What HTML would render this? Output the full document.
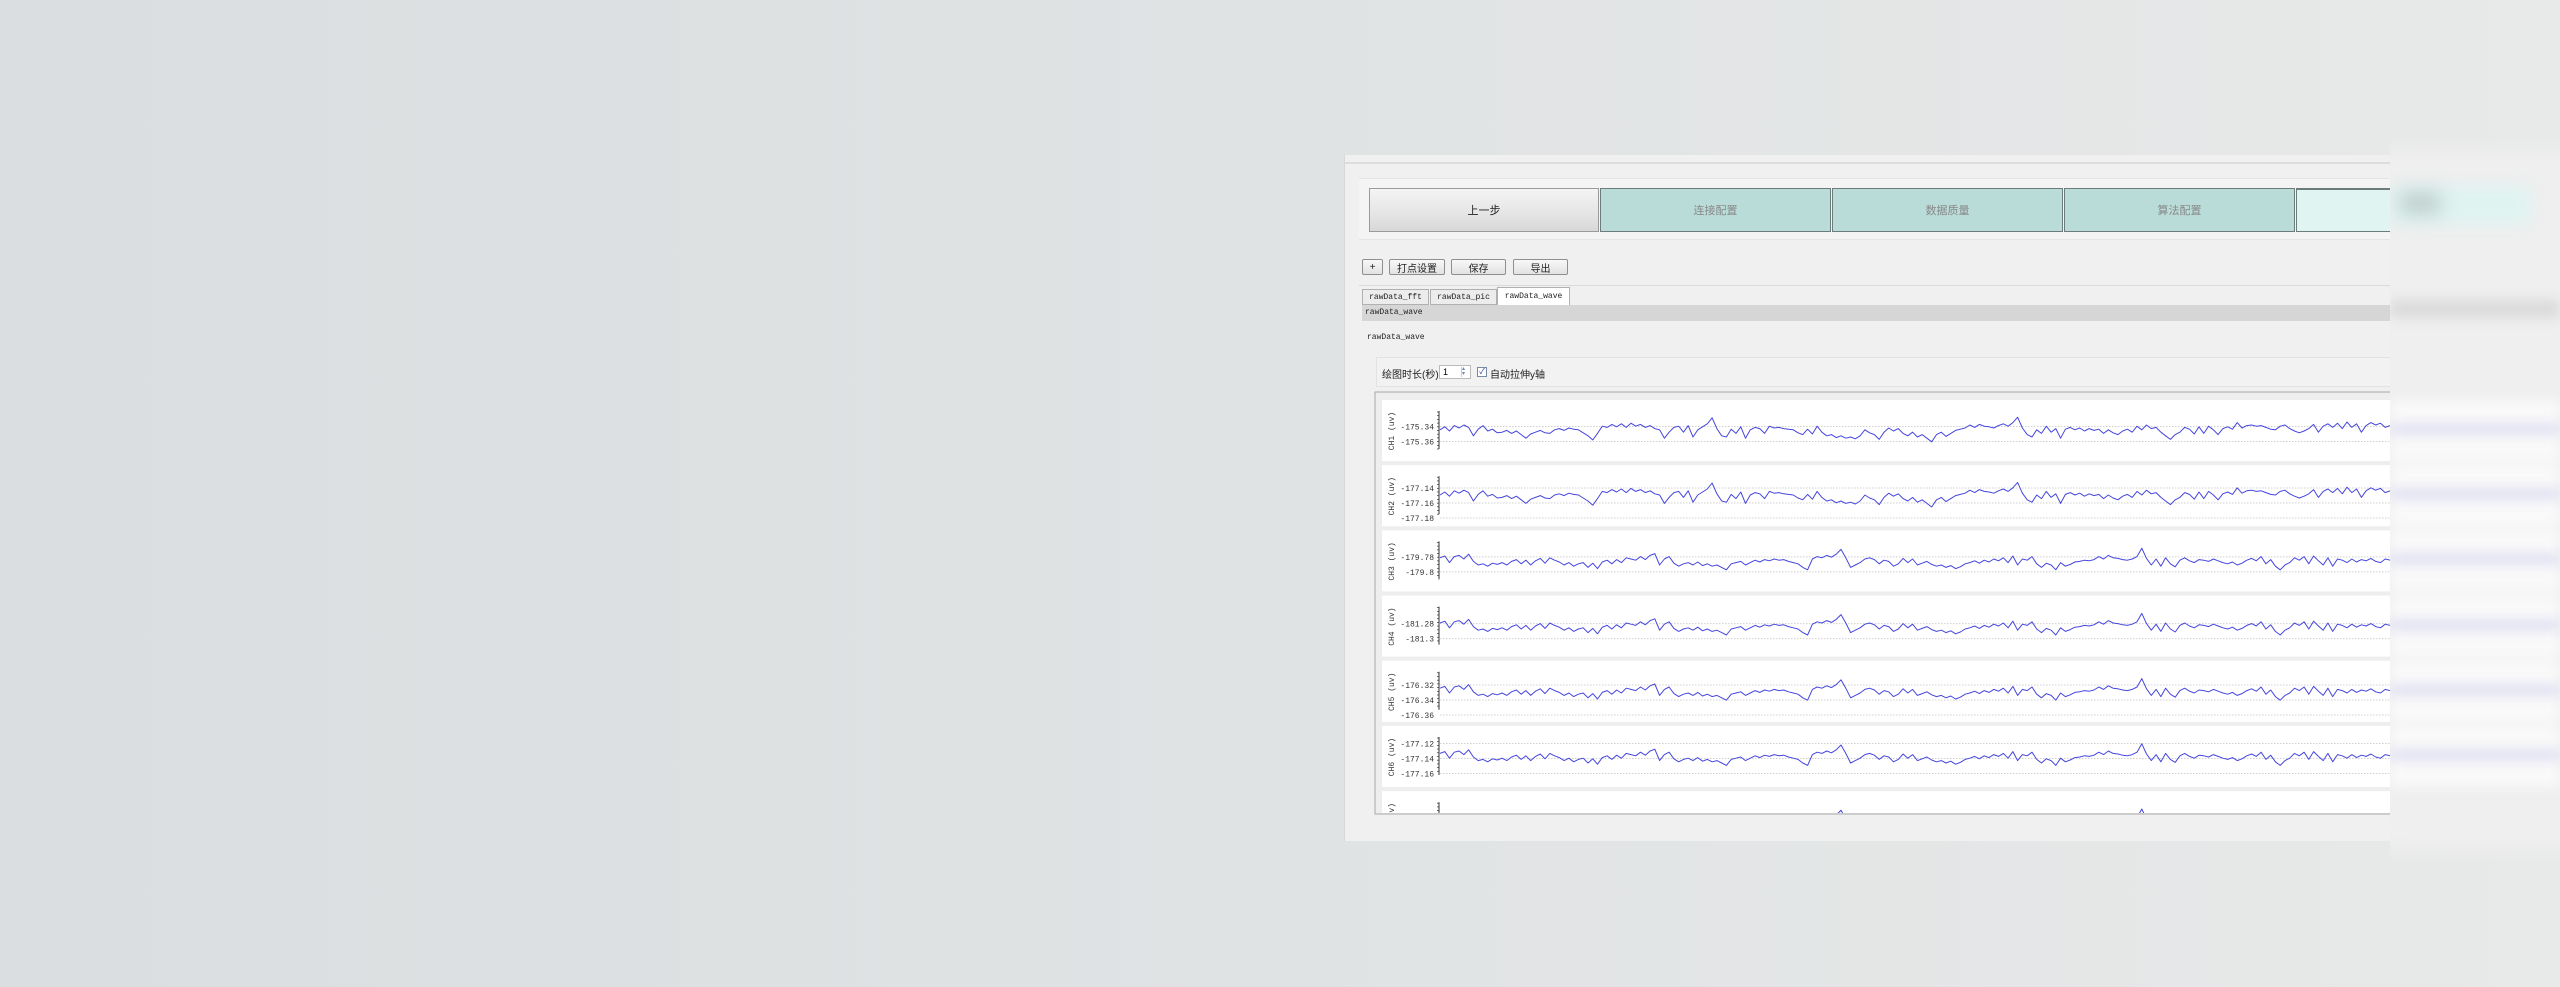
<!DOCTYPE html>
<html><head><meta charset="utf-8">
<style>
*{margin:0;padding:0;box-sizing:border-box}
body{width:2560px;height:987px;overflow:hidden;position:relative;background:linear-gradient(90deg,#dadee0 0%,#e0e3e4 50%,#e8e9e9 100%);font-family:"Liberation Sans","Noto Sans CJK SC",sans-serif;}
.abs{position:absolute}
#win{left:1344px;top:155px;width:1046px;height:686px;background:#f0f0f0;border-left:1px solid #d8d8d8;overflow:hidden}
.step{position:absolute;top:33px;height:44px;font-size:11px;color:#888;display:flex;align-items:center;justify-content:center;border:1px solid #6c7c7a}
.btn{position:absolute;top:104px;height:16px;border:1px solid #8f8f8f;border-radius:2px;background:linear-gradient(#f8f8f8,#e2e2e2);font-size:10px;display:flex;align-items:center;justify-content:center;color:#222}
.tab{position:absolute;top:134px;height:16px;border:1px solid #b0b0b0;background:#ececec;font-family:"Liberation Mono",monospace;font-size:8px;display:flex;align-items:center;justify-content:center;color:#222}
</style></head><body>
<div id="win" class="abs">
  <div class="abs" style="left:0;top:7px;width:1046px;height:2px;background:#dcdcdc"></div>
  <div class="abs" style="left:14px;top:23px;width:1032px;height:62px;background:#f4f4f4;border-top:1px solid #e4e4e4;border-bottom:1px solid #e4e4e4"></div>
  <div class="step" style="left:24px;width:230px;background:linear-gradient(#f4f4f4,#e6e6e6 55%,#d8d8d8);color:#222;border-color:#9a9a9a">上一步</div>
  <div class="step" style="left:255px;width:231px;background:#b9dcd9">连接配置</div>
  <div class="step" style="left:487px;width:231px;background:#b9dcd9">数据质量</div>
  <div class="step" style="left:719px;width:231px;background:#b9dcd9">算法配置</div>
  <div class="step" style="left:951px;width:120px;background:#e0f4f1;border-top:2px solid #6c7c7a"></div>
  <div class="btn" style="left:17px;width:21px">+</div>
  <div class="btn" style="left:44px;width:56px">打点设置</div>
  <div class="btn" style="left:106px;width:55px">保存</div>
  <div class="btn" style="left:168px;width:55px">导出</div>
  <div class="abs" style="left:14px;top:130px;width:1032px;height:1px;background:#dadada"></div>
  <div class="tab" style="left:17px;width:67px">rawData_fft</div>
  <div class="tab" style="left:85px;width:67px">rawData_pic</div>
  <div class="tab" style="left:152px;width:73px;background:#fff;top:132px;height:18px;border-bottom:none">rawData_wave</div>
  <div class="abs" style="left:17px;top:150px;width:1029px;height:16px;background:#d6d6d6;font-family:'Liberation Mono',monospace;font-size:8px;line-height:16px;padding-left:3px;color:#222">rawData_wave</div>
  <div class="abs" style="left:22px;top:178px;font-family:'Liberation Mono',monospace;font-size:8px;color:#222">rawData_wave</div>
  <div class="abs" style="left:31px;top:202px;width:1015px;height:30px;border:1px solid #e2e2e2;background:#f2f2f2"></div>
  <div class="abs" style="left:37px;top:211px;font-size:10px;color:#222">绘图时长(秒)</div>
  <div class="abs" style="left:94px;top:210px;width:32px;height:14px;background:#fff;border:1px solid #bbb;font-size:9px;padding-left:3px;line-height:12px">1<span style="position:absolute;right:1px;top:1px;width:8px;height:10px;border-left:1px solid #ccc;font-size:6px;line-height:5px;color:#6a8ab0">▴<br>▾</span></div>
  <div class="abs" style="left:132px;top:212px;width:10px;height:10px;border:1px solid #7a8aa0;background:#fff;font-size:8px;line-height:8px;text-align:center;color:#2040a0">✓</div>
  <div class="abs" style="left:145px;top:211px;font-size:10px;color:#222">自动拉伸y轴</div>
</div>
<svg id="plot" class="abs" style="left:0;top:0" width="2560" height="987"></svg>
<div class="abs" style="left:2390px;top:140px;width:170px;height:720px;overflow:hidden">
  <div class="abs" style="left:-30px;top:10px;width:230px;height:700px;background:#efefef;filter:blur(10px)"></div>
  <div class="abs" style="left:0;top:45px;width:140px;height:40px;background:#dff3f0;filter:blur(7px)"></div>
  <div class="abs" style="left:10px;top:52px;width:40px;height:22px;background:#c0cfcd;filter:blur(9px)"></div>
  <div class="abs" style="left:0;top:160px;width:170px;height:18px;background:#dadada;filter:blur(6px)"></div>
  <div id="blurRows" class="abs" style="left:0;top:0;width:170px;height:720px;filter:blur(6px)"></div>
</div>
<script>
const channels = ["CH1 (uv)","CH2 (uv)","CH3 (uv)","CH4 (uv)","CH5 (uv)","CH6 (uv)","CH7 (uv)"];
const centers = [-175.346,-177.151,-179.786,-181.284,-176.329,-177.138,-177.2];
const tickLabels = [["-175.34","-175.36"],["-177.14","-177.16","-177.18"],["-179.78","-179.8"],["-181.28","-181.3"],["-176.32","-176.34","-176.36"],["-177.12","-177.14","-177.16"],[]];
const tickValues = [[-175.34,-175.36],[-177.14,-177.16,-177.18],[-179.78,-179.80],[-181.28,-181.30],[-176.32,-176.34,-176.36],[-177.12,-177.14,-177.16],[]];
const waveA = [2,7,0,9,5,10,6,-8,3,9, 0,3,-3,-2,1,-4,0,-6,-12,-5, -2,1,-3,-4,2,4,1,5,3,2, -3,-8,-15,-4,8,6,11,7,12,6,
13,8,11,6,9,4,2,-12,-2,6, 8,-2,9,-10,2,7,12,22,4,-8, -10,3,-4,7,-12,2,6,4,-4,8, 5,6,4,3,2,-3,-6,3,-5,8,
-2,-8,-6,-11,-8,-12,-10,-13,-8,2, -3,-6,-14,-2,5,0,4,-4,-8,-2, -10,-6,-12,-18,-6,-2,-9,-4,1,3, 5,10,6,11,8,7,5,9,12,8,
14,23,5,-6,-10,2,-4,8,-2,4, -12,3,6,2,5,0,4,1,3,-4, 2,-3,-6,0,3,-2,8,2,10,4, 6,-2,-8,-14,-6,-2,6,3,-5,7,
-4,8,2,-6,4,7,3,14,5,9, 10,8,9,6,3,2,8,10,4,0, -3,0,4,11,-2,8,12,6,13,4, 15,6,12,-2,9,14,10,13,6,9];
const waveB = [6,9,-2,8,10,4,12,0,-6,-4, -8,-3,-5,-2,-6,0,3,-4,2,-6, 1,5,-3,6,2,-1,-6,-2,-8,-4, -2,-10,-3,-12,-1,2,-4,3,-2,6,
4,2,8,3,10,13,-6,4,8,-3, -8,-4,-2,-6,-1,-7,-4,-8,-6,-10, -14,-4,-2,0,-6,-2,2,-1,3,1, 4,2,3,0,-2,-4,-10,-14,4,8,
6,10,7,12,20,6,-10,-6,-2,4, 6,3,-4,2,0,-8,-4,5,-2,4, -6,-3,0,-5,-8,-6,-10,-7,-12,-9, -4,-2,1,-3,2,-1,4,1,6,-2,
9,-6,4,2,8,-4,-10,-3,-6,-14, -2,-8,-5,-1,0,2,1,3,8,4, 10,6,5,3,2,4,8,22,5,-6, 4,-8,6,-4,-9,2,6,1,-2,3,
2,0,4,1,-2,-4,-1,-6,-3,2, 5,1,8,-4,3,-8,-14,-6,-2,6, 2,8,-4,9,1,-6,6,-8,4,2, -2,4,-1,3,1,5,0,-2,4,2];
const waveOf = [waveA,waveA,waveB,waveB,waveB,waveB,waveB];

const NS="http://www.w3.org/2000/svg";
const svg=document.getElementById('plot');
function mk(tag,attrs,parent){const e=document.createElementNS(NS,tag);for(const k in attrs)e.setAttribute(k,attrs[k]);(parent||svg).appendChild(e);return e;}
const frameL=1375, frameT=392, frameR=2390, frameB=814;
const plotX0=1440, plotX1=2390;
const panelTop0=400, panelPitch=65.2, panelH=61;
const pxPerUv=750;
const frame=mk('rect',{x:frameL,y:frameT,width:frameR-frameL+20,height:frameB-frameT,fill:'#eeeeee',stroke:'#a8a8a8','stroke-width':1});


mk('clipPath',{id:'fc'},mk('defs',{}));
const cp=svg.querySelector('#fc');
mk('rect',{x:frameL+1,y:frameT+1,width:frameR-frameL-1,height:frameB-frameT-2},cp);
const g=mk('g',{'clip-path':'url(#fc)'});
function xScale(i,n){return plotX0+i*(plotX1-plotX0)/(n-1);}
channels.forEach((name,k)=>{
  const top=panelTop0+k*panelPitch;
  const midY=top+31;
  const yScale=v=>midY-(v-centers[k])*pxPerUv;
  const pg=mk('g',{},g);
  
  
  mk('rect',{x:1382,y:top,width:1020,height:panelH,fill:'#ffffff'},pg);
  tickValues[k].forEach((tv,j)=>{
    const y=yScale(tv);
    mk('line',{x1:plotX0,x2:plotX1,y1:y,y2:y,stroke:'#d0d0d0','stroke-width':1,'stroke-dasharray':'1.5,1.5'},pg);
    const t=mk('text',{x:1434,y:y+3,'text-anchor':'end','font-size':8,'font-family':'Liberation Mono, monospace',fill:'#333'},pg);
    t.textContent=tickLabels[k][j];
    
    
  });
  mk('line',{x1:plotX0-1,x2:plotX0-1,y1:top+11,y2:top+49,stroke:'#333','stroke-width':1},pg);
  for(let m=top+12;m<=top+49;m+=3.7){mk('line',{x1:plotX0-3,x2:plotX0-1,y1:m,y2:m,stroke:'#333','stroke-width':0.7},pg);}
  const yl=mk('text',{x:0,y:0,transform:`translate(${1394},${midY}) rotate(-90)`,'text-anchor':'middle','font-size':8,'font-family':'Liberation Mono, monospace',fill:'#333'},pg);
  yl.textContent=name;
  
  
  const w=waveOf[k];
  const pts=w.map((d,i)=>xScale(i,w.length).toFixed(1)+','+yScale(centers[k]+d*0.8/1000).toFixed(1)).join(' ');
  const pl=mk('polyline',{points:pts,fill:'none',stroke:'#4545dd','stroke-width':1,'stroke-linejoin':'round'},pg);
  
  
});
const br=document.getElementById('blurRows');
channels.slice(0,6).forEach((n,k)=>{
  const top=panelTop0+k*panelPitch-140;
  const d=document.createElement('div');
  
  
  d.style.cssText=`position:absolute;left:0;top:${top}px;width:170px;height:${panelH}px;background:#f9f9f9`;
  const l=document.createElement('div');
  l.style.cssText=`position:absolute;left:0;top:24px;width:170px;height:10px;background:#dcdcf2`;
  d.appendChild(l);br.appendChild(d);
});
</script>
</body></html>
